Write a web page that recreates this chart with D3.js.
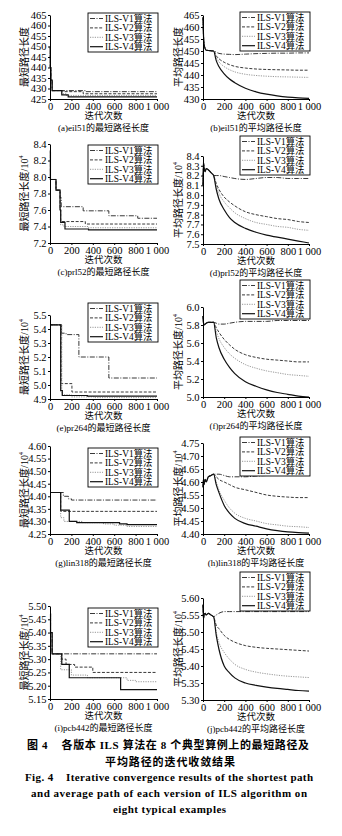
<!DOCTYPE html>
<html><head><meta charset="utf-8">
<script src="https://cdn.jsdelivr.net/npm/d3@7"></script>
<style>body{margin:0;background:#fff}svg{display:block}text{white-space:pre}</style>
</head><body>
<script>
// ---------- data ----------
const seriesNames = ["ILS-V1算法", "ILS-V2算法", "ILS-V3算法", "ILS-V4算法"];
const iterTicks = [0, 200, 400, 600, 800, 1000];
const iterTickLabels = ["0", "200", "400", "600", "800", "1 000"];
const avgIters = [0, 5, 10, 20, 30, 50, 75, 100, 125, 150, 200, 250, 300, 400, 500, 600, 700, 800, 900, 1000];

// shortest path: step breakpoints [iteration, length]
const eil51BestV1 = [[0,450],[3,440],[8,434],[20,429],[330,428.5]];
const eil51BestV2 = [[0,450],[3,440],[8,434],[20,429],[120,428.5],[310,427.5]];
const eil51BestV3 = [[0,450],[3,440],[8,434],[20,429],[110,427.5],[150,426.7]];
const eil51BestV4 = [[0,450],[3,440],[8,434],[20,429],[110,427],[170,426]];
const eil51BestTicks = [425,430,435,440,445,450,455,460,465];

const prl52BestV1 = [[0,8.32],[4,7.97],[56,7.84],[94,7.75],[105,7.64],[310,7.59],[550,7.53],[820,7.50]];
const prl52BestV2 = [[0,8.32],[4,7.97],[56,7.84],[94,7.6],[100,7.46],[330,7.43]];
const prl52BestV3 = [[0,8.32],[4,7.97],[56,7.84],[94,7.6],[100,7.42],[130,7.40],[360,7.385]];
const prl52BestV4 = [[0,8.32],[4,7.97],[56,7.84],[94,7.6],[100,7.45],[140,7.37],[360,7.36]];
const prl52BestTicks = [7.2,7.4,7.6,7.8,8.0,8.2,8.4];

const pr264BestV1 = [[0,5.43],[108,5.37],[150,5.36],[270,5.20],[550,5.05]];
const pr264BestV2 = [[0,5.43],[103,5.01],[205,4.95]];
const pr264BestV3 = [[0,5.43],[110,4.93],[200,4.915],[420,4.91]];
const pr264BestV4 = [[0,5.43],[100,4.96],[115,4.925],[350,4.92]];
const pr264BestTicks = [4.9,5.0,5.1,5.2,5.3,5.4,5.5];

const lin318BestV1 = [[0,4.415],[125,4.40],[172,4.39],[200,4.385]];
const lin318BestV2 = [[0,4.415],[100,4.34]];
const lin318BestV3 = [[0,4.415],[100,4.315],[130,4.30],[300,4.295],[500,4.29],[600,4.285],[720,4.28]];
const lin318BestV4 = [[0,4.415],[100,4.345],[180,4.30],[250,4.295],[650,4.29],[720,4.287]];
const lin318BestTicks = [4.25,4.30,4.35,4.40,4.45,4.50,4.55,4.60];

const pcb442BestV1 = [[0,5.47],[5,5.40],[20,5.32]];
const pcb442BestV2 = [[0,5.47],[5,5.40],[20,5.32],[110,5.30],[150,5.28],[230,5.27],[400,5.25]];
const pcb442BestV3 = [[0,5.47],[5,5.40],[20,5.32],[100,5.26],[200,5.24],[350,5.23],[720,5.22],[800,5.215]];
const pcb442BestV4 = [[0,5.47],[5,5.40],[20,5.32],[110,5.28],[180,5.23],[660,5.185]];
const pcb442BestTicks = [5.15,5.20,5.25,5.30,5.35,5.40,5.45,5.50];

// average path: values at avgIters
const eil51AvgV1 = [464,456,453,451,450.3,450.2,450.1,450,449.5,449,448.7,448.6,448.5,448.7,448.9,449,449.1,449.1,449.2,449.2];
const eil51AvgV2 = [464,456,453,451,450.3,450.2,450.1,450,448,446.8,445.3,444.3,443.6,442.9,442.5,442.3,442.2,442.1,442.0,442.0];
const eil51AvgV3 = [464,456,453,451,450.3,450.2,450.1,450,447.3,445.5,443.5,442.2,441.3,440.3,439.8,439.5,439.3,439.2,439.1,439.0];
const eil51AvgV4 = [464,456,453,451,450.3,450.2,450.1,450,446,443.5,440.5,438.3,436.8,434.5,433,432,431.3,430.8,430.5,430.3];
const eil51AvgTicks = [430,435,440,445,450,455,460,465];

const prl52AvgV1 = [8.10,8.33,8.28,8.24,8.27,8.26,8.23,8.20,8.20,8.20,8.19,8.18,8.17,8.16,8.17,8.18,8.18,8.17,8.17,8.17];
const prl52AvgV2 = [8.10,8.33,8.28,8.24,8.27,8.26,8.23,8.20,8.12,8.06,7.98,7.93,7.89,7.83,7.80,7.78,7.76,7.75,7.73,7.72];
const prl52AvgV3 = [8.10,8.33,8.28,8.24,8.27,8.26,8.23,8.20,8.10,8.02,7.93,7.87,7.82,7.76,7.72,7.70,7.68,7.67,7.65,7.64];
const prl52AvgV4 = [8.10,8.33,8.28,8.24,8.27,8.26,8.23,8.20,8.06,7.96,7.85,7.77,7.72,7.66,7.62,7.59,7.57,7.55,7.53,7.51];
const prl52AvgTicks = [7.5,7.6,7.7,7.8,7.9,8.0,8.1,8.2,8.3,8.4];

const pr264AvgV1 = [5.90,5.82,5.80,5.81,5.82,5.83,5.83,5.83,5.82,5.81,5.81,5.82,5.83,5.84,5.84,5.84,5.85,5.85,5.85,5.85];
const pr264AvgV2 = [5.90,5.82,5.80,5.81,5.82,5.83,5.83,5.83,5.77,5.72,5.64,5.58,5.53,5.47,5.44,5.42,5.41,5.40,5.39,5.39];
const pr264AvgV3 = [5.90,5.82,5.80,5.81,5.82,5.83,5.83,5.83,5.73,5.65,5.55,5.48,5.43,5.36,5.32,5.29,5.27,5.25,5.24,5.23];
const pr264AvgV4 = [5.90,5.82,5.80,5.81,5.82,5.83,5.83,5.83,5.66,5.55,5.42,5.33,5.26,5.17,5.12,5.08,5.05,5.03,5.01,5.00];
const pr264AvgTicks = [5.0,5.2,5.4,5.6,5.8,6.0];

const lin318AvgV1 = [4.58,4.61,4.59,4.61,4.60,4.62,4.625,4.63,4.63,4.63,4.625,4.62,4.62,4.62,4.623,4.625,4.627,4.628,4.63,4.63];
const lin318AvgV2 = [4.58,4.61,4.59,4.61,4.60,4.62,4.625,4.63,4.62,4.61,4.60,4.59,4.58,4.57,4.56,4.55,4.545,4.542,4.54,4.54];
const lin318AvgV3 = [4.58,4.61,4.59,4.61,4.60,4.62,4.625,4.63,4.60,4.57,4.53,4.50,4.48,4.46,4.45,4.44,4.435,4.43,4.428,4.425];
const lin318AvgV4 = [4.58,4.61,4.59,4.61,4.60,4.62,4.625,4.63,4.59,4.56,4.51,4.48,4.46,4.44,4.43,4.42,4.413,4.408,4.405,4.403];
const lin318AvgTicks = [4.40,4.45,4.50,4.55,4.60,4.65,4.70,4.75];

const pcb442AvgV1 = [5.58,5.54,5.55,5.555,5.55,5.555,5.55,5.545,5.55,5.555,5.56,5.56,5.56,5.56,5.56,5.56,5.56,5.56,5.56,5.56];
const pcb442AvgV2 = [5.58,5.54,5.55,5.555,5.55,5.555,5.55,5.545,5.52,5.51,5.49,5.478,5.47,5.46,5.455,5.452,5.45,5.448,5.446,5.444];
const pcb442AvgV3 = [5.58,5.54,5.55,5.555,5.55,5.555,5.55,5.545,5.50,5.47,5.44,5.42,5.405,5.39,5.382,5.377,5.373,5.37,5.368,5.366];
const pcb442AvgV4 = [5.58,5.54,5.55,5.555,5.55,5.555,5.55,5.545,5.49,5.45,5.40,5.38,5.365,5.35,5.343,5.338,5.334,5.331,5.328,5.326];
const pcb442AvgTicks = [5.30,5.35,5.40,5.45,5.50,5.55,5.60];

// ---------- drawing ----------
const W = 342, H = 836;
const serif = "'Liberation Serif','Noto Sans CJK SC',serif";
const cjk = "'Liberation Serif','Noto Sans CJK SC',sans-serif";
const lineStyles = [
  {stroke: "#222", dash: "5,1.5,1,1.5", width: 0.9},
  {stroke: "#222", dash: "3,1.6", width: 0.9},
  {stroke: "#8c8c8c", dash: "1.2,1.2", width: 0.9},
  {stroke: "#111", dash: null, width: 1.2}
];

const L = {x0: 50, x1: 157, legX: 88, ylabX: 24};
const R = {x0: 203, x1: 309, legX: 240, ylabX: 178};

const panels = [
  {col: L, top: 15, bottom: 99, kind: "best", dom: [425,465], ticks: eil51BestTicks, fmt: "d", series: [eil51BestV1,eil51BestV2,eil51BestV3,eil51BestV4], ylab: "最短路径长度", exp: false, cap: "(a)eil51的最短路径长度", legY: 13},
  {col: R, top: 15, bottom: 99, kind: "avg", dom: [430,465], ticks: eil51AvgTicks, fmt: "d", series: [eil51AvgV1,eil51AvgV2,eil51AvgV3,eil51AvgV4], ylab: "平均路径长度", exp: false, cap: "(b)eil51的平均路径长度", legY: 12},
  {col: L, top: 144, bottom: 243, kind: "best", dom: [7.2,8.4], ticks: prl52BestTicks, fmt: ".1f", series: [prl52BestV1,prl52BestV2,prl52BestV3,prl52BestV4], ylab: "最短路径长度/10", exp: true, cap: "(c)prl52的最短路径长度", legY: 145},
  {col: R, top: 156, bottom: 244, kind: "avg", dom: [7.5,8.4], ticks: prl52AvgTicks, fmt: ".1f", series: [prl52AvgV1,prl52AvgV2,prl52AvgV3,prl52AvgV4], ylab: "平均路径长度/10", exp: true, cap: "(d)prl52的平均路径长度", legY: 136},
  {col: L, top: 315, bottom: 399, kind: "best", dom: [4.9,5.5], ticks: pr264BestTicks, fmt: ".1f", series: [pr264BestV1,pr264BestV2,pr264BestV3,pr264BestV4], ylab: "最短路径长度/10", exp: true, cap: "(e)pr264的最短路径长度", legY: 303},
  {col: R, top: 307, bottom: 397, kind: "avg", dom: [5.0,6.0], ticks: pr264AvgTicks, fmt: ".1f", series: [pr264AvgV1,pr264AvgV2,pr264AvgV3,pr264AvgV4], ylab: "平均路径长度/10", exp: true, cap: "(f)pr264的平均路径长度", legY: 280},
  {col: L, top: 446, bottom: 534, kind: "best", dom: [4.25,4.60], ticks: lin318BestTicks, fmt: ".2f", series: [lin318BestV1,lin318BestV2,lin318BestV3,lin318BestV4], ylab: "最短路径长度/10", exp: true, cap: "(g)lin318的最短路径长度", legY: 448},
  {col: R, top: 443, bottom: 534, kind: "avg", dom: [4.40,4.75], ticks: lin318AvgTicks, fmt: ".2f", series: [lin318AvgV1,lin318AvgV2,lin318AvgV3,lin318AvgV4], ylab: "平均路径长度/10", exp: true, cap: "(h)lin318的平均路径长度", legY: 437},
  {col: L, top: 606, bottom: 699, kind: "best", dom: [5.15,5.50], ticks: pcb442BestTicks, fmt: ".2f", series: [pcb442BestV1,pcb442BestV2,pcb442BestV3,pcb442BestV4], ylab: "最短路径长度/10", exp: true, cap: "(i)pcb442的最短路径长度", legY: 608},
  {col: R, top: 598, bottom: 700, kind: "avg", dom: [5.30,5.60], ticks: pcb442AvgTicks, fmt: ".2f", series: [pcb442AvgV1,pcb442AvgV2,pcb442AvgV3,pcb442AvgV4], ylab: "平均路径长度/10", exp: true, cap: "(j)pcb442的平均路径长度", legY: 572}
];

const svg = d3.select("body").append("svg").attr("width", W).attr("height", H)
  .style("background", "#fff");

panels.forEach(p => {
  const x = d3.scaleLinear().domain([0, 1000]).range([p.col.x0, p.col.x1]);
  const y = d3.scaleLinear().domain(p.dom).range([p.bottom, p.top]);
  const g = svg.append("g");

  // series: V1..V4, solid V4 drawn last
  [0, 1, 2, 3].forEach(i => {
    const st = lineStyles[i];
    let pts, gen;
    if (p.kind === "best") {
      const bp = p.series[i];
      pts = bp.concat([[1000, bp[bp.length - 1][1]]]);
      gen = d3.line().x(d => x(d[0])).y(d => y(d[1])).curve(d3.curveStepAfter);
    } else {
      pts = avgIters.map((t, k) => [t, p.series[i][k]]);
      gen = d3.line().x(d => x(d[0])).y(d => y(d[1])).curve(d3.curveMonotoneX);
    }
    g.append("path").attr("d", gen(pts)).attr("fill", "none")
      .attr("stroke", st.stroke).attr("stroke-width", st.width)
      .attr("stroke-dasharray", st.dash);
  });

  // axes
  const xa = g.append("g").attr("transform", `translate(0,${p.bottom})`)
    .call(d3.axisBottom(x).tickValues(iterTicks).tickSize(2).tickSizeOuter(0)
      .tickFormat((d, i) => iterTickLabels[i]));
  const ya = g.append("g").attr("transform", `translate(${p.col.x0},0)`)
    .call(d3.axisLeft(y).tickValues(p.ticks).tickSize(2).tickSizeOuter(0)
      .tickFormat(d3.format(p.fmt)));
  [xa, ya].forEach(a => {
    a.selectAll("path,line").attr("stroke", "#000").attr("stroke-width", 1);
    a.selectAll("text").attr("font-family", serif).attr("font-size", 10.5).attr("fill", "#000");
  });
  xa.selectAll("text").attr("dy", null).attr("y", 10.5);
  ya.selectAll("text").attr("x", -3.5);

  // axis titles and caption
  const cx = (p.col.x0 + p.col.x1) / 2;
  g.append("text").attr("x", cx).attr("y", p.bottom + 19.5).attr("text-anchor", "middle")
    .attr("font-family", cjk).attr("font-size", 9.5).attr("fill", "#000").text("迭代次数");
  g.append("text").attr("x", cx).attr("y", p.bottom + 32).attr("text-anchor", "middle")
    .attr("font-family", cjk).attr("font-size", 9).attr("fill", "#000").text(p.cap);

  const yl = g.append("text")
    .attr("transform", `translate(${p.col.ylabX},${(p.top + p.bottom) / 2}) rotate(-90)`)
    .attr("text-anchor", "middle").attr("dy", "0.35em")
    .attr("font-family", cjk).attr("font-size", 10).attr("fill", "#000");
  yl.append("tspan").text(p.ylab);
  if (p.exp) yl.append("tspan").attr("font-size", 6).attr("dy", "-0.7em").text("4");

  // legend
  const lx = p.col.legX, lw = p.col.x1 - p.col.legX + 1, ly = p.legY, lh = 39;
  const lg = g.append("g");
  lg.append("rect").attr("x", lx).attr("y", ly).attr("width", lw).attr("height", lh)
    .attr("fill", "#fff").attr("stroke", "#000").attr("stroke-width", 0.9);
  seriesNames.forEach((name, i) => {
    const ry = ly + 5.5 + i * 9.4;
    const st = lineStyles[i];
    lg.append("line").attr("x1", lx + 2).attr("x2", lx + 15).attr("y1", ry).attr("y2", ry)
      .attr("stroke", st.stroke).attr("stroke-width", st.width).attr("stroke-dasharray", st.dash);
    lg.append("text").attr("x", lx + 17).attr("y", ry).attr("dy", "0.35em")
      .attr("font-family", cjk).attr("font-size", 9.4).attr("fill", "#000").text(name);
  });
});

// figure caption
const capCn = [
  {t: "图 4    各版本 ILS 算法在 8 个典型算例上的最短路径及", x: 27, y: 749, len: 282},
  {t: "平均路径的迭代收敛结果", x: 105, y: 766, len: 130}
];
capCn.forEach(c => {
  svg.append("text").attr("x", c.x).attr("y", c.y).attr("textLength", c.len)
    .attr("lengthAdjust", "spacing").attr("font-family", cjk).attr("font-weight", "bold")
    .attr("font-size", 11).attr("fill", "#000").text(c.t);
});
const capEn = [
  {t: "Fig. 4    Iterative convergence results of the shortest path", x: 25, y: 781, len: 288},
  {t: "and average path of each version of ILS algorithm on", x: 31, y: 797, len: 276},
  {t: "eight typical examples", x: 113, y: 813, len: 113}
];
capEn.forEach(c => {
  svg.append("text").attr("x", c.x).attr("y", c.y).attr("textLength", c.len)
    .attr("lengthAdjust", "spacing").attr("font-family", serif).attr("font-weight", "bold")
    .attr("font-size", 11).attr("fill", "#000").text(c.t);
});
</script>
</body></html>
